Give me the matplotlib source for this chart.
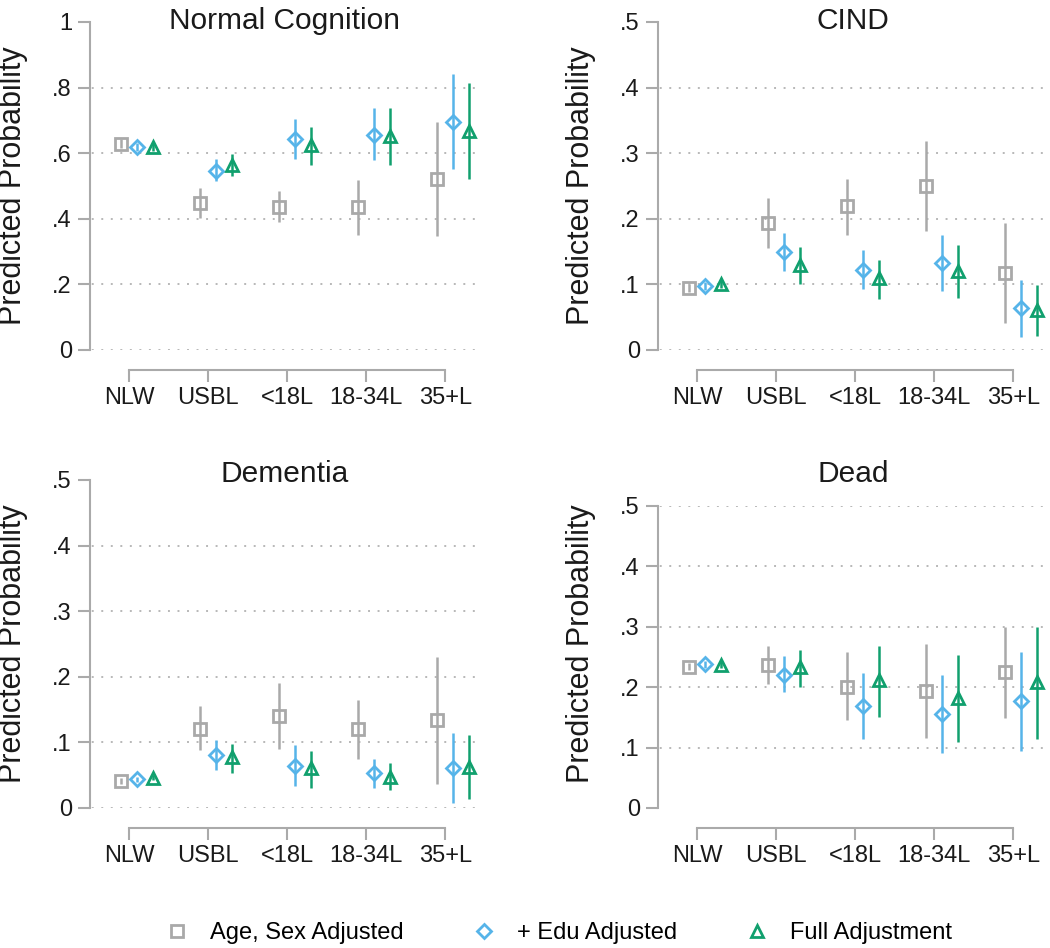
import numpy as np
import matplotlib
matplotlib.use("Agg")
import matplotlib.pyplot as plt
from matplotlib.lines import Line2D

plt.rcParams['font.family'] = ['Liberation Sans', 'DejaVu Sans']

groups = ['NLW', 'USBL', '<18L', '18-34L', '35+L']
series = ['Age, Sex Adjusted', '+ Edu Adjusted', 'Full Adjustment']

# Normal Cognition  (rows: age/sex, +edu, full)
normal_est = [[0.629, 0.448, 0.437, 0.435, 0.522],
              [0.619, 0.547, 0.643, 0.657, 0.696],
              [0.620, 0.565, 0.624, 0.651, 0.669]]
normal_lo = [[0.615, 0.402, 0.390, 0.351, 0.349],
             [0.606, 0.514, 0.582, 0.579, 0.552],
             [0.607, 0.529, 0.563, 0.565, 0.522]]
normal_hi = [[0.643, 0.493, 0.486, 0.519, 0.694],
             [0.632, 0.582, 0.704, 0.737, 0.840],
             [0.633, 0.598, 0.680, 0.737, 0.814]]

# CIND
cind_est = [[0.094, 0.193, 0.220, 0.250, 0.118],
            [0.098, 0.149, 0.122, 0.132, 0.064],
            [0.101, 0.130, 0.109, 0.120, 0.061]]
cind_lo = [[0.088, 0.155, 0.176, 0.181, 0.041],
           [0.092, 0.120, 0.093, 0.090, 0.020],
           [0.095, 0.100, 0.078, 0.079, 0.021]]
cind_hi = [[0.100, 0.231, 0.260, 0.319, 0.194],
           [0.104, 0.178, 0.152, 0.175, 0.107],
           [0.107, 0.157, 0.137, 0.160, 0.099]]

# Dementia
dem_est = [[0.041, 0.121, 0.140, 0.120, 0.134],
           [0.044, 0.081, 0.064, 0.053, 0.061],
           [0.046, 0.077, 0.061, 0.048, 0.063]]
dem_lo = [[0.037, 0.088, 0.090, 0.075, 0.037],
          [0.040, 0.058, 0.033, 0.031, 0.008],
          [0.042, 0.053, 0.031, 0.028, 0.013]]
dem_hi = [[0.045, 0.155, 0.191, 0.164, 0.230],
          [0.048, 0.103, 0.096, 0.074, 0.114],
          [0.050, 0.098, 0.087, 0.069, 0.112]]

# Dead
dead_est = [[0.234, 0.237, 0.201, 0.194, 0.225],
            [0.238, 0.220, 0.169, 0.156, 0.177],
            [0.237, 0.233, 0.212, 0.182, 0.209]]
dead_lo = [[0.228, 0.206, 0.145, 0.116, 0.149],
           [0.232, 0.192, 0.114, 0.091, 0.095],
           [0.231, 0.201, 0.151, 0.109, 0.114]]
dead_hi = [[0.240, 0.268, 0.259, 0.271, 0.300],
           [0.244, 0.251, 0.224, 0.221, 0.259],
           [0.243, 0.262, 0.269, 0.253, 0.300]]

colors = ['#a9a9a9', '#56b4e9', '#11a06e']
markers = ['s', 'D', '^']
msizes = [8, 7.5, 9]
offsets = [-0.1, 0.1, 0.3]
axis_gray = '#aaaaaa'

W, H = 1050, 948
fig = plt.figure(figsize=(W / 100, H / 100), dpi=100)

def rect(left, top, right, bottom):
    return [left / W, 1 - bottom / H, (right - left) / W, (bottom - top) / H]

# title, est, lo, hi, axes box (px), ymax, yticks, grid rows, title baseline (px)
panels = [
    ('Normal Cognition', normal_est, normal_lo, normal_hi, (89.5, 22, 480, 350),
     1.0, np.arange(0, 1.01, 0.2), [0, .2, .4, .6, .8], 29),
    ('CIND', cind_est, cind_lo, cind_hi, (657.5, 22, 1048, 350),
     0.5, np.arange(0, 0.51, 0.1), [0, .1, .2, .3, .4], 29),
    ('Dementia', dem_est, dem_lo, dem_hi, (89.5, 480, 480, 808),
     0.5, np.arange(0, 0.51, 0.1), [0, .1, .2, .3, .4], 482),
    ('Dead', dead_est, dead_lo, dead_hi, (657.5, 506, 1048, 808),
     0.5, np.arange(0, 0.51, 0.1), [.1, .2, .3, .4, .5], 482),
]

x = np.arange(1, len(groups) + 1)

def fmt(v):
    if abs(v) < 1e-9:
        return '0'
    if abs(v - 1) < 1e-9:
        return '1'
    return ('%.1f' % v).lstrip('0')

for title, est, lo, hi, box, ymax, yticks, grids, base in panels:
    ax = fig.add_axes(rect(*box))
    ax.set_xlim(0.5, 5.44)
    ax.set_ylim(0, ymax)
    for g in grids:
        ax.axhline(g, color='#b8b8b8', lw=1.4, ls=(4, (1, 3.9)), zorder=0)
    for k in range(3):
        e = np.array(est[k]); l = np.array(lo[k]); h = np.array(hi[k])
        ax.errorbar(x + offsets[k], e, yerr=[e - l, h - e], fmt='none',
                    ecolor=colors[k], elinewidth=1.8, capsize=0, zorder=2)
        ax.plot(x + offsets[k], e, ls='none', marker=markers[k], ms=msizes[k],
                mfc='none', mec=colors[k], mew=2.0, zorder=3)
    ax.spines['top'].set_visible(False)
    ax.spines['right'].set_visible(False)
    ax.spines['left'].set_color(axis_gray)
    ax.spines['bottom'].set_color(axis_gray)
    ax.spines['left'].set_linewidth(1.5)
    ax.spines['bottom'].set_linewidth(1.5)
    ax.spines['bottom'].set_position(('outward', 14.4))
    ax.spines['bottom'].set_bounds(1, 5)
    ax.set_xticks(x)
    ax.set_xticklabels(groups)
    ax.set_yticks(yticks)
    ax.set_yticklabels([fmt(v) for v in yticks])
    ax.tick_params(axis='both', colors=axis_gray, length=8.6, width=1.5,
                   labelsize=17, labelcolor='#1a1a1a', pad=4)
    ax.set_ylabel('Predicted Probability', fontsize=22, color='#1a1a1a', va='center')
    # center the y label on the same height for both bottom panels
    ax.yaxis.set_label_coords(-0.196, (box[3] - 644 if box[1] > 400 else box[3] - 186) / (box[3] - box[1]))
    ty = (box[3] - base) / (box[3] - box[1])
    ax.set_title(title, fontsize=21.5, color='#1a1a1a', y=ty, pad=0, va='baseline')

handles = [Line2D([], [], ls='none', marker=markers[k], ms=msizes[k], mfc='none',
                  mec=colors[k], mew=2.0) for k in range(3)]
fig.legend(handles, series, loc='center left', bbox_to_anchor=(0.137, 0.016),
           ncol=3, frameon=False, fontsize=17, handlelength=1.0,
           handletextpad=0.9, columnspacing=2.9, borderpad=0.4)

fig.savefig('out.png', dpi=100)
